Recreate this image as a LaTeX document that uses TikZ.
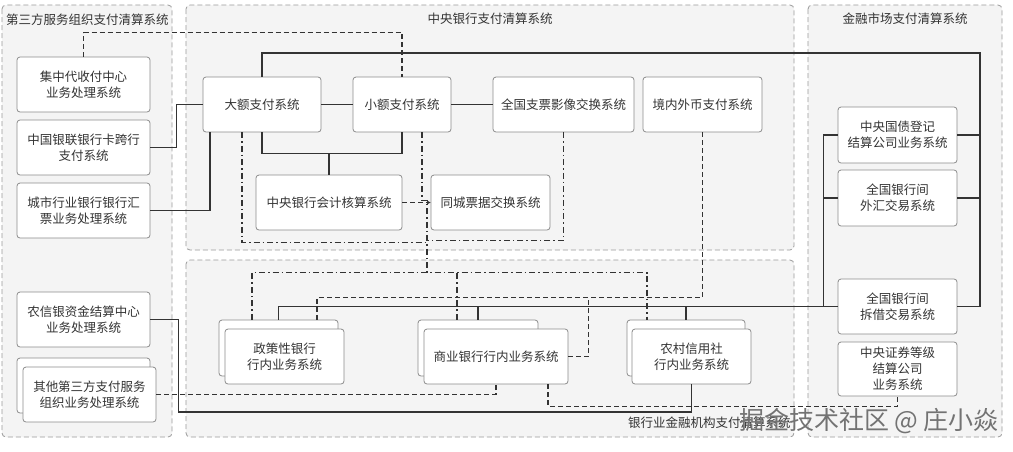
\documentclass[tikz,border=0pt]{standalone}
\usepackage{fontspec}
\setmainfont{Noto Sans CJK SC}
\usetikzlibrary{calc,arrows.meta}
\definecolor{ln}{HTML}{333333}
\definecolor{bx}{HTML}{8C8C8C}
\definecolor{cf}{HTML}{F4F4F4}
\definecolor{cb}{HTML}{9A9A9A}
\definecolor{tx}{HTML}{333333}
\begin{document}
\begin{tikzpicture}[x=1pt,y=-1pt,
  box/.style={draw=bx, line width=0.8pt, fill=white, rounded corners=3pt, align=center,
    font=\fontsize{12.5}{16}\selectfont, text=tx, inner sep=0pt},
  cont/.style={draw=cb, line width=0.8pt, dash pattern=on 5pt off 3pt, fill=cf, rounded corners=4pt},
  sl/.style={draw=ln, line width=1.4pt},
  dsh/.style={draw=ln, line width=1.4pt, dash pattern=on 5pt off 3pt},
  dd/.style={draw=ln, line width=1.4pt, dash pattern=on 6pt off 3pt on 1.5pt off 3pt},
  ttl/.style={font=\fontsize{12.5}{16}\selectfont, text=tx, inner sep=0pt}
]
\useasboundingbox (0,0) rectangle (1013,451);
\fill[white] (0,0) rectangle (1013,451);

% containers
\path[cont] (2,5) rectangle (172,437);
\path[cont] (186,5) rectangle (794,250);
\path[cont] (186,260) rectangle (794,437);
\path[cont] (808,5) rectangle (1002,437);

\node[ttl, anchor=west] (t1) at (6,20) {第三方服务组织支付清算系统};
\node[ttl] (t2) at (490,19) {中央银行支付清算系统};
\node[ttl] (t3) at (905,19) {金融市场支付清算系统};
\node[ttl, anchor=west] (t4) at (628,423) {银行业金融机构支付清算系统};

% left column
\node[box, minimum width=133pt, minimum height=55pt] (jzd) at (83.5,84.5) {集中代收付中心\\业务处理系统};
\node[box, minimum width=133pt, minimum height=55pt] (yl) at (83.5,147.5) {中国银联银行卡跨行\\支付系统};
\node[box, minimum width=133pt, minimum height=55pt] (cs) at (83.5,210.5) {城市行业银行银行汇\\票业务处理系统};
\node[box, minimum width=133pt, minimum height=55pt] (nx) at (83.5,319.5) {农信银资金结算中心\\业务处理系统};
\node[box, minimum width=133pt, minimum height=55pt] (qtb) at (83.5,385.5) {};
\node[box, minimum width=133pt, minimum height=55pt] (qt) at (89.5,394.5) {其他第三方支付服务\\组织业务处理系统};

% central bank
\node[box, minimum width=118pt, minimum height=55pt] (de) at (262,104.5) {大额支付系统};
\node[box, minimum width=98pt, minimum height=55pt] (xe) at (402,104.5) {小额支付系统};
\node[box, minimum width=141pt, minimum height=55pt] (zp) at (563.5,104.5) {全国支票影像交换系统};
\node[box, minimum width=119pt, minimum height=55pt] (jn) at (702.5,104.5) {境内外币支付系统};
\node[box, minimum width=146pt, minimum height=55pt] (kj) at (329,202.5) {中央银行会计核算系统};
\node[box, minimum width=119pt, minimum height=55pt] (tc) at (490.5,202.5) {同城票据交换系统};

% financial market
\node[box, minimum width=119pt, minimum height=56pt] (gz) at (897.5,135) {中央国债登记\\结算公司业务系统};
\node[box, minimum width=119pt, minimum height=56pt] (wh) at (897.5,198) {全国银行间\\外汇交易系统};
\node[box, minimum width=119pt, minimum height=55pt] (cj) at (897.5,306.5) {全国银行间\\拆借交易系统};
\node[box, minimum width=119pt, minimum height=54pt] (zq) at (897.5,369) {中央证券等级\\结算公司\\业务系统};

% banks
\node[box, minimum width=119pt, minimum height=56pt] (zcb) at (278.5,348) {};
\node[box, minimum width=119pt, minimum height=55pt] (zc) at (284.5,356.5) {政策性银行\\行内业务系统};
\node[box, minimum width=120pt, minimum height=56pt] (syb) at (478,348) {};
\node[box, minimum width=144pt, minimum height=55pt] (sy) at (496,356.5) {商业银行行内业务系统};
\node[box, minimum width=118pt, minimum height=56pt] (ncb) at (686,348) {};
\node[box, minimum width=119pt, minimum height=55pt] (nc) at (691.5,356.5) {农村信用社\\行内业务系统};

% solid connectors
\draw[sl] (de.north) |- (980,53) |- (cj.east);
\draw[sl] (gz.east) -- ++(23,0);
\draw[sl] (wh.east) -- ++(23,0);
\draw[sl] (gz.west) -- ++(-14,0) |- (cj.west);
\draw[sl] (wh.west) -- ++(-14,0);
\draw[sl] (zcb.north) |- (cj.west);
\draw[sl] (syb.north) -- (syb.north |- cj.west);
\draw[sl] (ncb.north) -- (ncb.north |- cj.west);
\draw[sl] (de.east) -- (xe.west);
\draw[sl] (xe.east) -- (zp.west);
\draw[sl] (de.south) -- ++(0,21) -| (xe.south);
\draw[sl] (kj.north) -- ++(0,-22);
\draw[sl] (yl.east) -- ++(26,0) |- (de.west);
\draw[sl] (cs.east) -| ($(de.south)+(-52,0)$);
\draw[sl] (nx.east) -- ++(28,0) -- ++(0,92.5) -| (nc.south);

% dashed connectors
\draw[dsh] (jzd.north) -- ++(0,-24) -| (xe.north);
\draw[dsh,-{Stealth[length=4pt,width=4pt]}] (kj.east) -- (tc.west);
\draw[dsh] (jn.south) -- ++(0,165) -| ($(zcb.north)+(38.5,0)$);
\draw[dsh] (sy.east) -- ++(20,0) -- ++(0,-59.5);
\draw[dsh] (qt.east) -| (sy.south);
\draw[dsh] ($(sy.south)+(52,0)$) -- ++(0,22) -| (zq.south);

% dash-dot connectors
\draw[dd] ($(xe.south)+(20,0)$) -- ++(0,68) -- ++(5,0) -- ++(0,73);
\draw[dd] ($(zcb.north)+(-26.5,0)$) -- ++(0,-47) -| ($(ncb.north)+(-39,0)$);
\draw[dd] ($(syb.north)+(-21,0)$) -- ++(0,-47);
\draw[dd] ($(de.south)+(-20,0)$) -- ++(0,110) -- ++(185,0);
\draw[dd] (zp.south) -- ++(0,108) -- ++(-136,0);

% watermark
\node[font=\fontsize{25}{25}\selectfont, text=black!55, inner sep=0pt] (wm) at (869,421) {掘金技术社区 @ 庄小焱};
\end{tikzpicture}
\end{document}
